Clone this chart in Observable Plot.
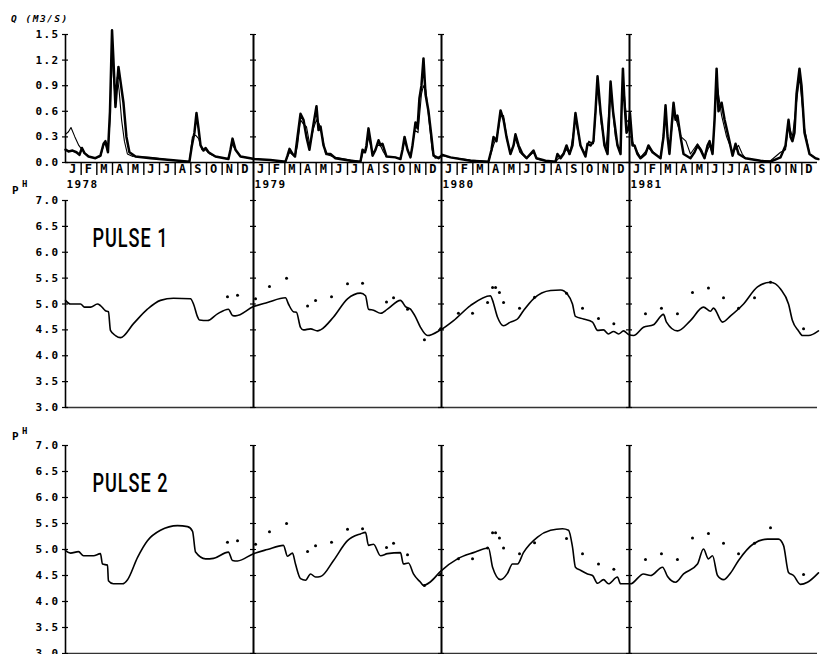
<!DOCTYPE html>
<html><head><meta charset="utf-8">
<script src="https://cdn.jsdelivr.net/npm/d3@7"></script>
<script src="https://cdn.jsdelivr.net/npm/@observablehq/plot@0.6"></script>
<style>
body{margin:0;background:#fff;}
#chart{position:relative;width:820px;height:654px;overflow:hidden;background:#fff;}
#chart svg{position:absolute;left:0;background:transparent;}
.lbl{position:absolute;font-family:"DejaVu Sans Mono",monospace;font-weight:bold;color:#000;white-space:pre;line-height:1;}
</style></head><body><div id="chart"></div>
<script>
// ---------- DATA ----------
const monthLetters = ["J","F","M","A","M","J","J","A","S","O","N","D"];
const years = [1978, 1979, 1980, 1981];
const qTicks = [0, 0.3, 0.6, 0.9, 1.2, 1.5];
const phTicks = [3, 3.5, 4, 4.5, 5, 5.5, 6, 6.5, 7];
const panelLabels = ["PULSE 1", "PULSE 2"];

// Discharge, observed (thick): [months since 1 Jan 1978, m3/s]
const qObs = [
 [0,0.15],[0.19,0.13],[0.45,0.14],[0.70,0.12],[0.89,0.09],[1.05,0.17],[1.21,0.11],[1.47,0.07],[1.91,0.05],
 [2.23,0.08],[2.43,0.22],[2.55,0.25],[2.71,0.12],[2.84,0.6],[2.97,1.55],[3.06,1.2],[3.19,0.65],[3.29,0.9],
 [3.38,1.12],[3.51,0.95],[3.70,0.7],[3.89,0.3],[4.08,0.12],[4.47,0.07],[5.43,0.05],[6.70,0.03],[7.91,0.01],
 [8.07,0.2],[8.23,0.35],[8.36,0.58],[8.49,0.4],[8.62,0.2],[8.81,0.14],[8.94,0.17],[9.13,0.12],[9.57,0.07],
 [10.40,0.04],[10.53,0.15],[10.66,0.28],[10.85,0.15],[11.17,0.07],[12.06,0.04],
 [13.08,0.03],[14.04,0.01],[14.17,0.08],[14.30,0.16],[14.49,0.1],[14.65,0.07],[14.81,0.3],[15.0,0.57],
 [15.19,0.5],[15.38,0.3],[15.57,0.15],[15.70,0.3],[15.83,0.45],[16.02,0.66],[16.15,0.38],[16.28,0.42],
 [16.47,0.2],[16.66,0.1],[16.91,0.1],[17.23,0.05],[18.19,0.02],[18.83,0.01],[18.96,0.15],[19.12,0.12],
 [19.21,0.2],[19.34,0.4],[19.47,0.25],[19.60,0.08],[19.79,0.15],[19.98,0.26],[20.11,0.2],[20.23,0.22],
 [20.49,0.07],[21.06,0.06],[21.38,0.04],[21.51,0.15],[21.64,0.3],[21.83,0.15],[22.02,0.06],[22.15,0.2],
 [22.34,0.47],[22.47,0.4],[22.59,0.75],[22.72,0.9],[22.85,1.22],[22.98,0.8],[23.17,0.6],[23.36,0.3],
 [23.49,0.08],[23.81,0.05],[24.06,0.09],
 [24.57,0.06],[25.85,0.02],[27.0,0.01],[27.19,0.15],[27.32,0.3],[27.51,0.25],[27.77,0.61],[27.96,0.5],
 [28.15,0.3],[28.40,0.1],[28.60,0.2],[28.72,0.33],[28.92,0.2],[29.17,0.1],[29.43,0.05],[29.87,0.14],
 [30.06,0.05],[30.64,0.02],[31.28,0.01],[31.40,0.1],[31.60,0.05],[31.79,0.1],[31.98,0.2],[32.17,0.1],
 [32.36,0.2],[32.55,0.58],[32.74,0.35],[32.87,0.2],[33.19,0.07],[33.32,0.22],[33.51,0.2],[33.70,0.25],
 [33.83,0.6],[33.96,1.01],[34.15,0.6],[34.40,0.2],[34.60,0.1],[34.69,0.5],[34.79,0.95],[34.95,0.6],
 [35.23,0.2],[35.43,0.1],[35.49,0.6],[35.58,1.1],[35.68,0.7],[35.81,0.35],[35.94,0.4],[36.03,0.58],[36.19,0.2],
 [36.32,0.2],[36.51,0.1],[36.70,0.05],[37.02,0.1],[37.21,0.2],[37.47,0.12],[37.98,0.05],[38.17,0.3],
 [38.30,0.67],[38.43,0.3],[38.55,0.1],[38.68,0.4],[38.81,0.7],[38.94,0.5],[39.06,0.55],[39.26,0.3],
 [39.45,0.1],[39.89,0.05],[40.15,0.12],[40.34,0.2],[40.53,0.15],[40.79,0.05],[40.98,0.2],[41.11,0.25],
 [41.30,0.1],[41.43,0.5],[41.56,1.1],[41.68,0.6],[41.78,0.65],[41.88,0.7],[42.07,0.5],[42.32,0.3],
 [42.58,0.08],[42.77,0.22],[42.96,0.1],[43.40,0.05],[44.36,0.02],[45.0,0.01],[45.64,0.06],[45.96,0.2],
 [46.15,0.5],[46.28,0.3],[46.40,0.25],[46.53,0.35],[46.66,0.8],[46.85,1.1],[46.98,0.9],[47.17,0.35],
 [47.49,0.1],[47.87,0.05],[48.06,0.04]
];

// Discharge, simulated (thin)
const qSim = [
 [0,0.33],[0.19,0.36],[0.35,0.41],[0.6,0.3],[0.85,0.2],[1.05,0.15],[1.3,0.1],[1.5,0.07],[1.91,0.05],
 [2.23,0.07],[2.43,0.2],[2.55,0.22],[2.71,0.12],[2.84,0.5],[2.97,1.35],[3.06,1.0],[3.19,0.7],[3.3,1.0],
 [3.42,0.85],[3.58,0.5],[3.76,0.25],[3.95,0.1],[4.3,0.07],[5.43,0.06],[6.7,0.03],[7.91,0.01],[8.1,0.3],
 [8.3,0.32],[8.5,0.28],[8.7,0.15],[8.94,0.15],[9.2,0.1],[9.57,0.07],[10.4,0.04],[10.6,0.22],[10.85,0.15],
 [11.17,0.07],[12.06,0.04],
 [13.08,0.03],[14.04,0.01],[14.3,0.12],[14.65,0.07],[14.81,0.2],[15.0,0.5],[15.19,0.45],[15.38,0.42],
 [15.6,0.2],[15.83,0.4],[16.02,0.5],[16.2,0.45],[16.4,0.3],[16.6,0.1],[16.91,0.08],[17.23,0.06],[18.19,0.03],
 [18.83,0.01],[19.0,0.12],[19.21,0.15],[19.34,0.3],[19.6,0.1],[19.9,0.2],[20.1,0.2],[20.3,0.12],[20.49,0.07],
 [21.06,0.06],[21.38,0.04],[21.64,0.25],[22.02,0.06],[22.3,0.38],[22.5,0.35],[22.72,0.8],[22.85,0.9],
 [23.0,0.85],[23.2,0.5],[23.4,0.15],[23.6,0.05],[24.06,0.08],
 [24.57,0.06],[25.85,0.03],[27.0,0.01],[27.32,0.2],[27.6,0.35],[27.77,0.55],[27.96,0.55],[28.2,0.25],
 [28.4,0.1],[28.72,0.28],[29.0,0.12],[29.43,0.05],[29.87,0.12],[30.1,0.04],[30.64,0.02],[31.28,0.01],
 [31.5,0.05],[31.98,0.15],[32.2,0.1],[32.55,0.5],[32.87,0.2],[33.19,0.1],[33.4,0.25],[33.7,0.22],[33.96,0.9],
 [34.2,0.45],[34.5,0.15],[34.79,0.85],[35.1,0.3],[35.4,0.12],[35.58,1.0],[35.81,0.5],[36.03,0.45],[36.19,0.25],
 [36.32,0.18],[36.7,0.06],[37.21,0.17],[37.98,0.05],[38.3,0.55],[38.55,0.12],[38.81,0.6],[39.06,0.45],
 [39.3,0.3],[39.6,0.25],[39.89,0.1],[40.34,0.22],[40.6,0.15],[40.79,0.06],[41.11,0.2],[41.3,0.1],[41.56,0.95],
 [41.88,0.55],[42.2,0.3],[42.58,0.12],[42.96,0.2],[43.2,0.1],[43.4,0.05],[44.36,0.02],[45.0,0.02],
 [45.64,0.12],[45.96,0.15],[46.15,0.45],[46.4,0.3],[46.85,1.0],[47.17,0.4],[47.49,0.1],[47.87,0.05],[48.06,0.04]
];

// Simulated pH, PULSE 1
const ph1Sim = [
 [0,5.07],[0.32,5.0],[0.96,5.0],[1.21,4.94],[1.60,4.94],[2.04,5.0],[2.23,4.97],[2.55,4.87],[2.74,4.85],
 [2.87,4.49],[3.19,4.39],[3.51,4.35],[4.34,4.62],[5.23,4.9],[6.06,5.07],[6.89,5.11],[7.98,5.1],[8.17,5.0],
 [8.43,4.75],[8.55,4.69],[9.06,4.68],[9.70,4.81],[10.40,4.9],[10.66,4.78],[10.85,4.77],[12.0,4.95],
 [12.89,5.03],[14.04,5.12],[14.23,5.0],[14.55,4.85],[14.74,4.84],[15.0,4.55],[15.19,4.5],[15.64,4.52],
 [16.08,4.48],[16.28,4.5],[17.11,4.75],[18.0,5.1],[18.83,5.21],[19.15,5.16],[19.34,4.9],[19.66,4.88],
 [20.11,4.82],[20.55,4.9],[21.38,5.07],[21.70,4.95],[22.02,4.9],[22.34,4.75],[22.66,4.55],[23.11,4.39],
 [23.94,4.5],[24.77,4.68],[25.85,4.97],[27.13,5.16],[27.26,5.07],[27.57,4.75],[27.96,4.58],[28.40,4.65],
 [28.85,4.71],[29.23,4.87],[29.87,5.1],[30.96,5.26],[31.60,5.27],[32.04,5.19],[32.36,5.0],[32.55,4.76],
 [33.06,4.71],[33.64,4.65],[33.96,4.49],[34.34,4.5],[34.66,4.42],[34.98,4.47],[35.30,4.42],[35.62,4.48],
 [35.94,4.41],[36.26,4.39],[36.89,4.55],[37.53,4.6],[38.17,4.8],[38.36,4.65],[39.06,4.48],[39.89,4.68],
 [40.72,4.94],[41.17,4.86],[41.36,4.92],[41.94,4.65],[42.45,4.77],[43.28,5.0],[44.17,5.33],[45.0,5.42],
 [45.64,5.29],[46.15,5.0],[46.40,4.68],[46.79,4.48],[47.04,4.39],[47.43,4.39],[48.06,4.48]
];

// Simulated pH, PULSE 2
const ph2Sim = [
 [0,4.98],[0.32,4.93],[0.83,4.96],[1.15,4.88],[1.79,4.88],[2.23,4.92],[2.36,4.72],[2.68,4.7],[2.74,4.4],
 [3.06,4.34],[3.64,4.34],[3.96,4.42],[4.60,4.85],[5.23,5.17],[6.06,5.37],[7.15,5.46],[7.79,5.44],[8.11,5.35],
 [8.30,4.95],[8.94,4.82],[9.45,4.83],[10.40,4.95],[10.66,4.79],[10.98,4.78],[12.0,4.92],[12.89,5.0],
 [13.91,5.08],[14.17,4.87],[14.49,4.93],[14.68,4.72],[15.0,4.44],[15.32,4.41],[15.64,4.53],[15.96,4.47],
 [16.28,4.48],[17.11,4.79],[18.0,5.17],[18.83,5.3],[19.15,5.33],[19.34,5.08],[19.66,5.1],[20.11,4.88],
 [20.55,4.92],[21.38,4.94],[21.57,4.72],[21.89,4.74],[22.21,4.53],[22.66,4.37],[22.85,4.31],[23.30,4.38],
 [23.94,4.58],[25.02,4.82],[26.04,4.94],[27.0,5.03],[27.26,4.66],[27.77,4.42],[28.21,4.54],[28.53,4.72],
 [28.85,4.72],[29.23,4.94],[30.13,5.24],[30.96,5.37],[31.72,5.4],[32.11,5.37],[32.36,5.05],[32.55,4.66],
 [32.87,4.6],[33.32,4.53],[33.64,4.5],[33.96,4.35],[34.34,4.42],[34.66,4.34],[35.23,4.47],[35.43,4.34],
 [36.06,4.34],[36.89,4.53],[37.34,4.5],[38.11,4.66],[38.43,4.48],[38.94,4.37],[39.45,4.53],[40.34,4.72],
 [40.72,5.01],[41.04,4.82],[41.30,4.88],[41.62,4.5],[42.0,4.42],[42.45,4.55],[42.96,4.79],[43.92,5.11],
 [44.81,5.2],[45.51,5.2],[45.83,5.08],[46.15,4.56],[46.47,4.5],[46.91,4.33],[47.36,4.37],[48.06,4.55]
];

// Observed pH (dots), same in both panels
const phObs = [
 [10.34,5.14],[10.98,5.17],[12.13,5.1],[13.02,5.34],[14.11,5.5],[15.45,4.96],[15.96,5.07],[16.98,5.14],
 [18.0,5.39],[18.96,5.4],[20.49,5.04],[20.94,5.12],[21.83,4.9],[22.91,4.31],[23.94,4.52],[25.08,4.82],
 [25.98,4.82],[26.94,5.03],[27.26,5.32],[27.45,5.32],[27.70,5.22],[27.96,5.03],[28.98,4.92],[29.94,5.13],
 [31.98,5.21],[33.0,4.92],[34.02,4.72],[35.0,4.62],[37.02,4.81],[38.04,4.92],[39.06,4.81],[40.02,5.22],
 [41.04,5.31],[42.0,5.12],[42.96,4.92],[43.98,5.12],[45.0,5.42],[47.11,4.52]
];

// ---------- DRAWING ----------
const chart = document.getElementById("chart");
const fmt1 = d3.format(".1f");
const yearStarts = years.map((y, i) => ({m: i * 12, label: String(y)}));
const innerYears = yearStarts.slice(1).map(d => d.m);
const monthCells = d3.range(years.length * 12).map(i => ({m: i + 0.5, label: monthLetters[i % 12]}));
const monthSeps = d3.range(1, years.length * 12).filter(i => i % 12 !== 0);
const crosses = ticks => [0, ...innerYears].flatMap(x => ticks.map(v => ({x, v})));
const baseStyle = {fontFamily: "DejaVu Sans Mono, monospace", fontSize: "11px", fontWeight: "bold", letterSpacing: "1.4px", background: "transparent", color: "#000"};
const common = {width: 820, marginLeft: 65, marginRight: 3, x: {domain: [0, 48], axis: null}};

function place(svg, top) { svg.style.top = top + "px"; chart.appendChild(svg); }

// Panel A: discharge + month strip + year labels
const plotA = Plot.plot({
  ...common, height: 194, marginTop: 34, marginBottom: 32, style: baseStyle,
  y: {domain: [0, 1.5], ticks: qTicks, tickFormat: fmt1, tickSize: 0, tickPadding: 6, label: null},
  marks: [
    Plot.ruleY([0], {strokeWidth: 1.3}),
    Plot.ruleX([0], {strokeWidth: 1.6}),
    Plot.ruleX(innerYears, {strokeWidth: 2, insetBottom: -32}),
    Plot.ruleY(crosses(qTicks), {y: "v", x1: "x", x2: "x", insetLeft: -3, insetRight: -3, strokeWidth: 1.2}),
    Plot.ruleX(monthSeps, {y1: 0, y2: 0, insetBottom: -13, strokeWidth: 1.4}),
    Plot.text(monthCells, {x: "m", y: 0, text: "label", dy: 7, fontSize: 12, lineAnchor: "middle"}),
    Plot.text(yearStarts, {x: "m", y: 0, text: "label", textAnchor: "start", dx: 1, dy: 22, lineAnchor: "middle"}),
    Plot.line(qSim, {x: d => d[0], y: d => d[1], strokeWidth: 1.1, stroke: "#000"}),
    Plot.line(qObs, {x: d => d[0], y: d => d[1], strokeWidth: 2.5, stroke: "#000", strokeLinejoin: "round"})
  ]
});
place(plotA, 0);

function phPanel(sim, label, top, height, mt, mb, extendTop) {
  const p = Plot.plot({
    ...common, height, marginTop: mt, marginBottom: mb, style: baseStyle,
    y: {domain: [3, 7], ticks: phTicks, tickFormat: fmt1, tickSize: 0, tickPadding: 6, label: null},
    marks: [
      Plot.ruleY([3], {stroke: "#333", strokeWidth: 1.6}),
      Plot.ruleX([0], {strokeWidth: 1.6}),
      Plot.ruleX(innerYears, {strokeWidth: 2, insetTop: extendTop ? -mt : 0}),
      Plot.ruleY(crosses(phTicks), {y: "v", x1: "x", x2: "x", insetLeft: -3, insetRight: -3, strokeWidth: 1.2}),
      Plot.line(sim, {x: d => d[0], y: d => d[1], strokeWidth: 1.6, stroke: "#000", strokeLinejoin: "round", curve: "monotone-x"}),
      Plot.dot(phObs, {x: d => d[0], y: d => d[1], r: 1.5, fill: "#000", stroke: null}),
      Plot.text([label], {text: d => d, frameAnchor: "top-left", textAnchor: "start", lineAnchor: "bottom",
        dx: 27, dy: 46, fontSize: 26, fontWeight: 500, letterSpacing: "0px",
        fontFamily: "Roboto, Liberation Sans, sans-serif"})
    ]
  });
  p.querySelectorAll('g[aria-label="text"] text').forEach(t => {
    t.setAttribute("textLength", 76);
    t.setAttribute("lengthAdjust", "spacingAndGlyphs");
  });
  place(p, top);
}
phPanel(ph1Sim, panelLabels[0], 194, 226, 6, 13, true);
phPanel(ph2Sim, panelLabels[1], 420, 234, 25, 1, false);

// Axis titles (HTML text)
function lbl(text, left, top, size, extra) {
  const d = document.createElement("div");
  d.className = "lbl"; d.textContent = text;
  d.style.left = left + "px"; d.style.top = top + "px"; d.style.fontSize = size + "px";
  Object.assign(d.style, extra || {});
  chart.appendChild(d);
}
lbl("Q (M3/S)", 11, 14, 9.5, {fontStyle: "italic", letterSpacing: "1.5px"});
[[185, 180], [431, 427]].forEach(([pt, ht]) => {
  lbl("P", 12, pt, 11, {});
  lbl("H", 22, ht, 9, {});
});
</script>
</body></html>
